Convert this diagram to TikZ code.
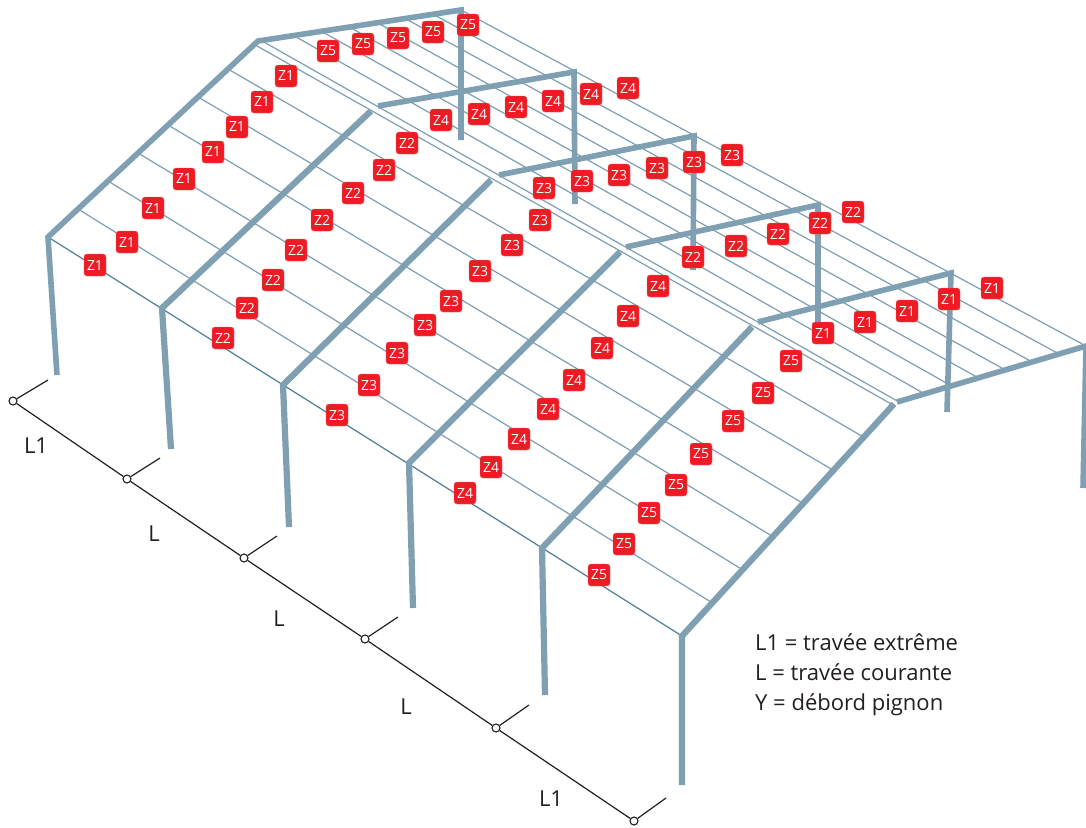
\documentclass[tikz,border=0pt]{standalone}
\usepackage{fontspec}
\setmainfont{Open Sans}
\usetikzlibrary{calc}
\definecolor{steel}{HTML}{7F9FB2}
\definecolor{purlin}{HTML}{7E9FB1}
\definecolor{eave}{HTML}{4F7F96}
\definecolor{zred}{HTML}{ED1C24}
\definecolor{ink}{HTML}{231F20}
\tikzset{
  purl/.style={draw=purlin,line width=1.2pt},
  eaveline/.style={draw=eave,line width=1.2pt},
  rafter/.style={draw=steel,line width=6.2pt,line cap=butt,line join=miter},
  endrafter/.style={draw=steel,line width=5.6pt,line cap=butt,line join=miter},
  farrafter/.style={draw=steel,line width=5.6pt,line cap=butt,line join=miter},
  zone/.style={fill=zred,draw=zred!70!white,line width=.4pt,rounded corners=3pt,minimum width=22pt,minimum height=22pt,inner sep=0pt,text=white,font=\fontsize{14}{14}\selectfont},
  dimline/.style={draw=ink,line width=1.2pt},
  dimpt/.style={circle,draw=ink,fill=white,line width=1.1pt,minimum size=8pt,inner sep=0pt},
  dimtext/.style={text=ink,inner sep=0pt,font=\fontsize{22}{22}\selectfont},
}
\begin{document}
\begin{tikzpicture}[x=1pt,y=-1pt]
\useasboundingbox (0,0) rectangle (1086,827);
\fill[white] (0,0) rectangle (1086,827);
% eaves, ridges, far eaves
\foreach \n/\ex/\ey/\lx/\ly/\rx/\ry/\fx/\fy/\bx/\by/\cx/\cy in {
 1/48/237/258/41/258/41/461/10/57/375/461/140,
 2/162/308/371/111/378/106/574/72/171/449/575/204,
 3/283/385/491/180/499/175/694/136/289/527/693/270,
 4/409/463/620/252/626/247/818/205/413/608/818/335,
 5/542/548/752/327/758/322/951/273/545/695/947/412,
 6/682/636/894/404/897/402/1086/346/682/785/1083/488}{
  \coordinate (E\n) at (\ex,\ey);
  \coordinate (R\n) at (\lx,\ly);
  \coordinate (S\n) at (\rx,\ry);
  \coordinate (F\n) at (\fx,\fy);
  \coordinate (B\n) at (\bx,\by);
  \coordinate (C\n) at (\cx,\cy);
}
\coordinate (Q1) at (266,40);
\coordinate (Q6) at (898,402);
% purlins
\foreach \k in {1,...,6}{
  \draw[purl] ($(E1)!{\k/7}!(R1)$) -- ($(E6)!{\k/7}!(R6)$);
}
\foreach \k in {1,...,7}{
  \draw[purl] ($(Q1)!{\k/7}!(F1)$) -- ($(Q6)!{\k/7}!(F6)$);
}
\coordinate (ridgeA) at (263,41.5);
\coordinate (ridgeB) at (899,402);
\coordinate (ridgeC) at (257,46);
\coordinate (ridgeD) at (894,405.5);
\draw[purl] (ridgeA) -- (ridgeB);
\draw[purl] (ridgeC) -- (ridgeD);
\draw[eaveline] (E1) -- (E6);
% frames
\draw[farrafter] (S2) -- (F2) -- (C2);
\draw[farrafter] (S3) -- (F3) -- (C3);
\draw[farrafter] (S4) -- (F4) -- (C4);
\draw[farrafter] (S5) -- (F5) -- (C5);
\draw[farrafter] (S6) -- (F6) -- (C6);
\draw[endrafter] (B1) -- (E1) -- (R1) -- (F1) -- (C1);
\foreach \n in {2,...,6}{
  \draw[rafter] (B\n) -- (E\n) -- (R\n);
}
% dimension chain
\foreach \n/\x/\y/\tx/\ty in {0/13/401/48/380,1/127/479/160/458,2/244/558/277/536,3/365/639/398/617,4/496/728/529/705,5/634/821/666/798}{
  \coordinate (T\n) at (\tx,\ty);
  \node[dimpt] (D\n) at (\x,\y) {};
}
\foreach \a/\b in {0/1,1/2,2/3,3/4,4/5}{ \draw[dimline] (D\a) -- (D\b); }
\foreach \n in {0,...,5}{ \draw[dimline] (D\n) -- (T\n); }
\node[dimtext] (lab1) at (36,446) {L1};
\node[dimtext] (lab2) at (154,534) {L};
\node[dimtext] (lab3) at (279,619) {L};
\node[dimtext] (lab4) at (406,707) {L};
\node[dimtext] (lab5) at (551,799) {L1};
\node[dimtext,anchor=base west] (leg1) at (755,650.5) {L1 = travée extrême};
\node[dimtext,anchor=base west] (leg2) at (755,680) {L = travée courante};
\node[dimtext,anchor=base west] (leg3) at (755,710) {Y = débord pignon};
% zones
\foreach \t/\x/\y [count=\i] in {
 Z1/95/265,Z1/127/242,Z1/153/208,Z1/184/179,Z1/213/152,Z1/237/127,Z1/262/102,Z1/286/76,
 Z2/223/338,Z2/247/308,Z2/273/280,Z2/296/250,Z2/322/220,Z2/353/193,Z2/384/170,Z2/407/143,
 Z3/337/415,Z3/369/385,Z3/397/353,Z3/425/325,Z3/451/301,Z3/480/271,Z3/512/245,Z3/540/220,
 Z3/544/188,Z3/582/181,Z3/619/175,Z3/657/168,Z3/694/162,Z3/732/155,
 Z4/465/493,Z4/491/467,Z4/519/439,Z4/548/409,Z4/574/380,Z4/602/348,Z4/628/316,Z4/658/286,
 Z4/441/120,Z4/479/114,Z4/516/107,Z4/553/101,Z4/591/94,Z4/628/88,
 Z5/599/575,Z5/624/544,Z5/649/513,Z5/676/485,Z5/701/454,Z5/733/421,Z5/763/393,Z5/791/361,
 Z5/328/51,Z5/363/44,Z5/398/38,Z5/433/32,Z5/468/25,
 Z2/693/257,Z2/736/246,Z2/778/234,Z2/820/223,Z2/853/212,
 Z1/823/333,Z1/865/322,Z1/907/311,Z1/949/299,Z1/992/288}{
  \node[zone] (z\i) at (\x,\y) {\t};
}
\end{tikzpicture}
\end{document}
